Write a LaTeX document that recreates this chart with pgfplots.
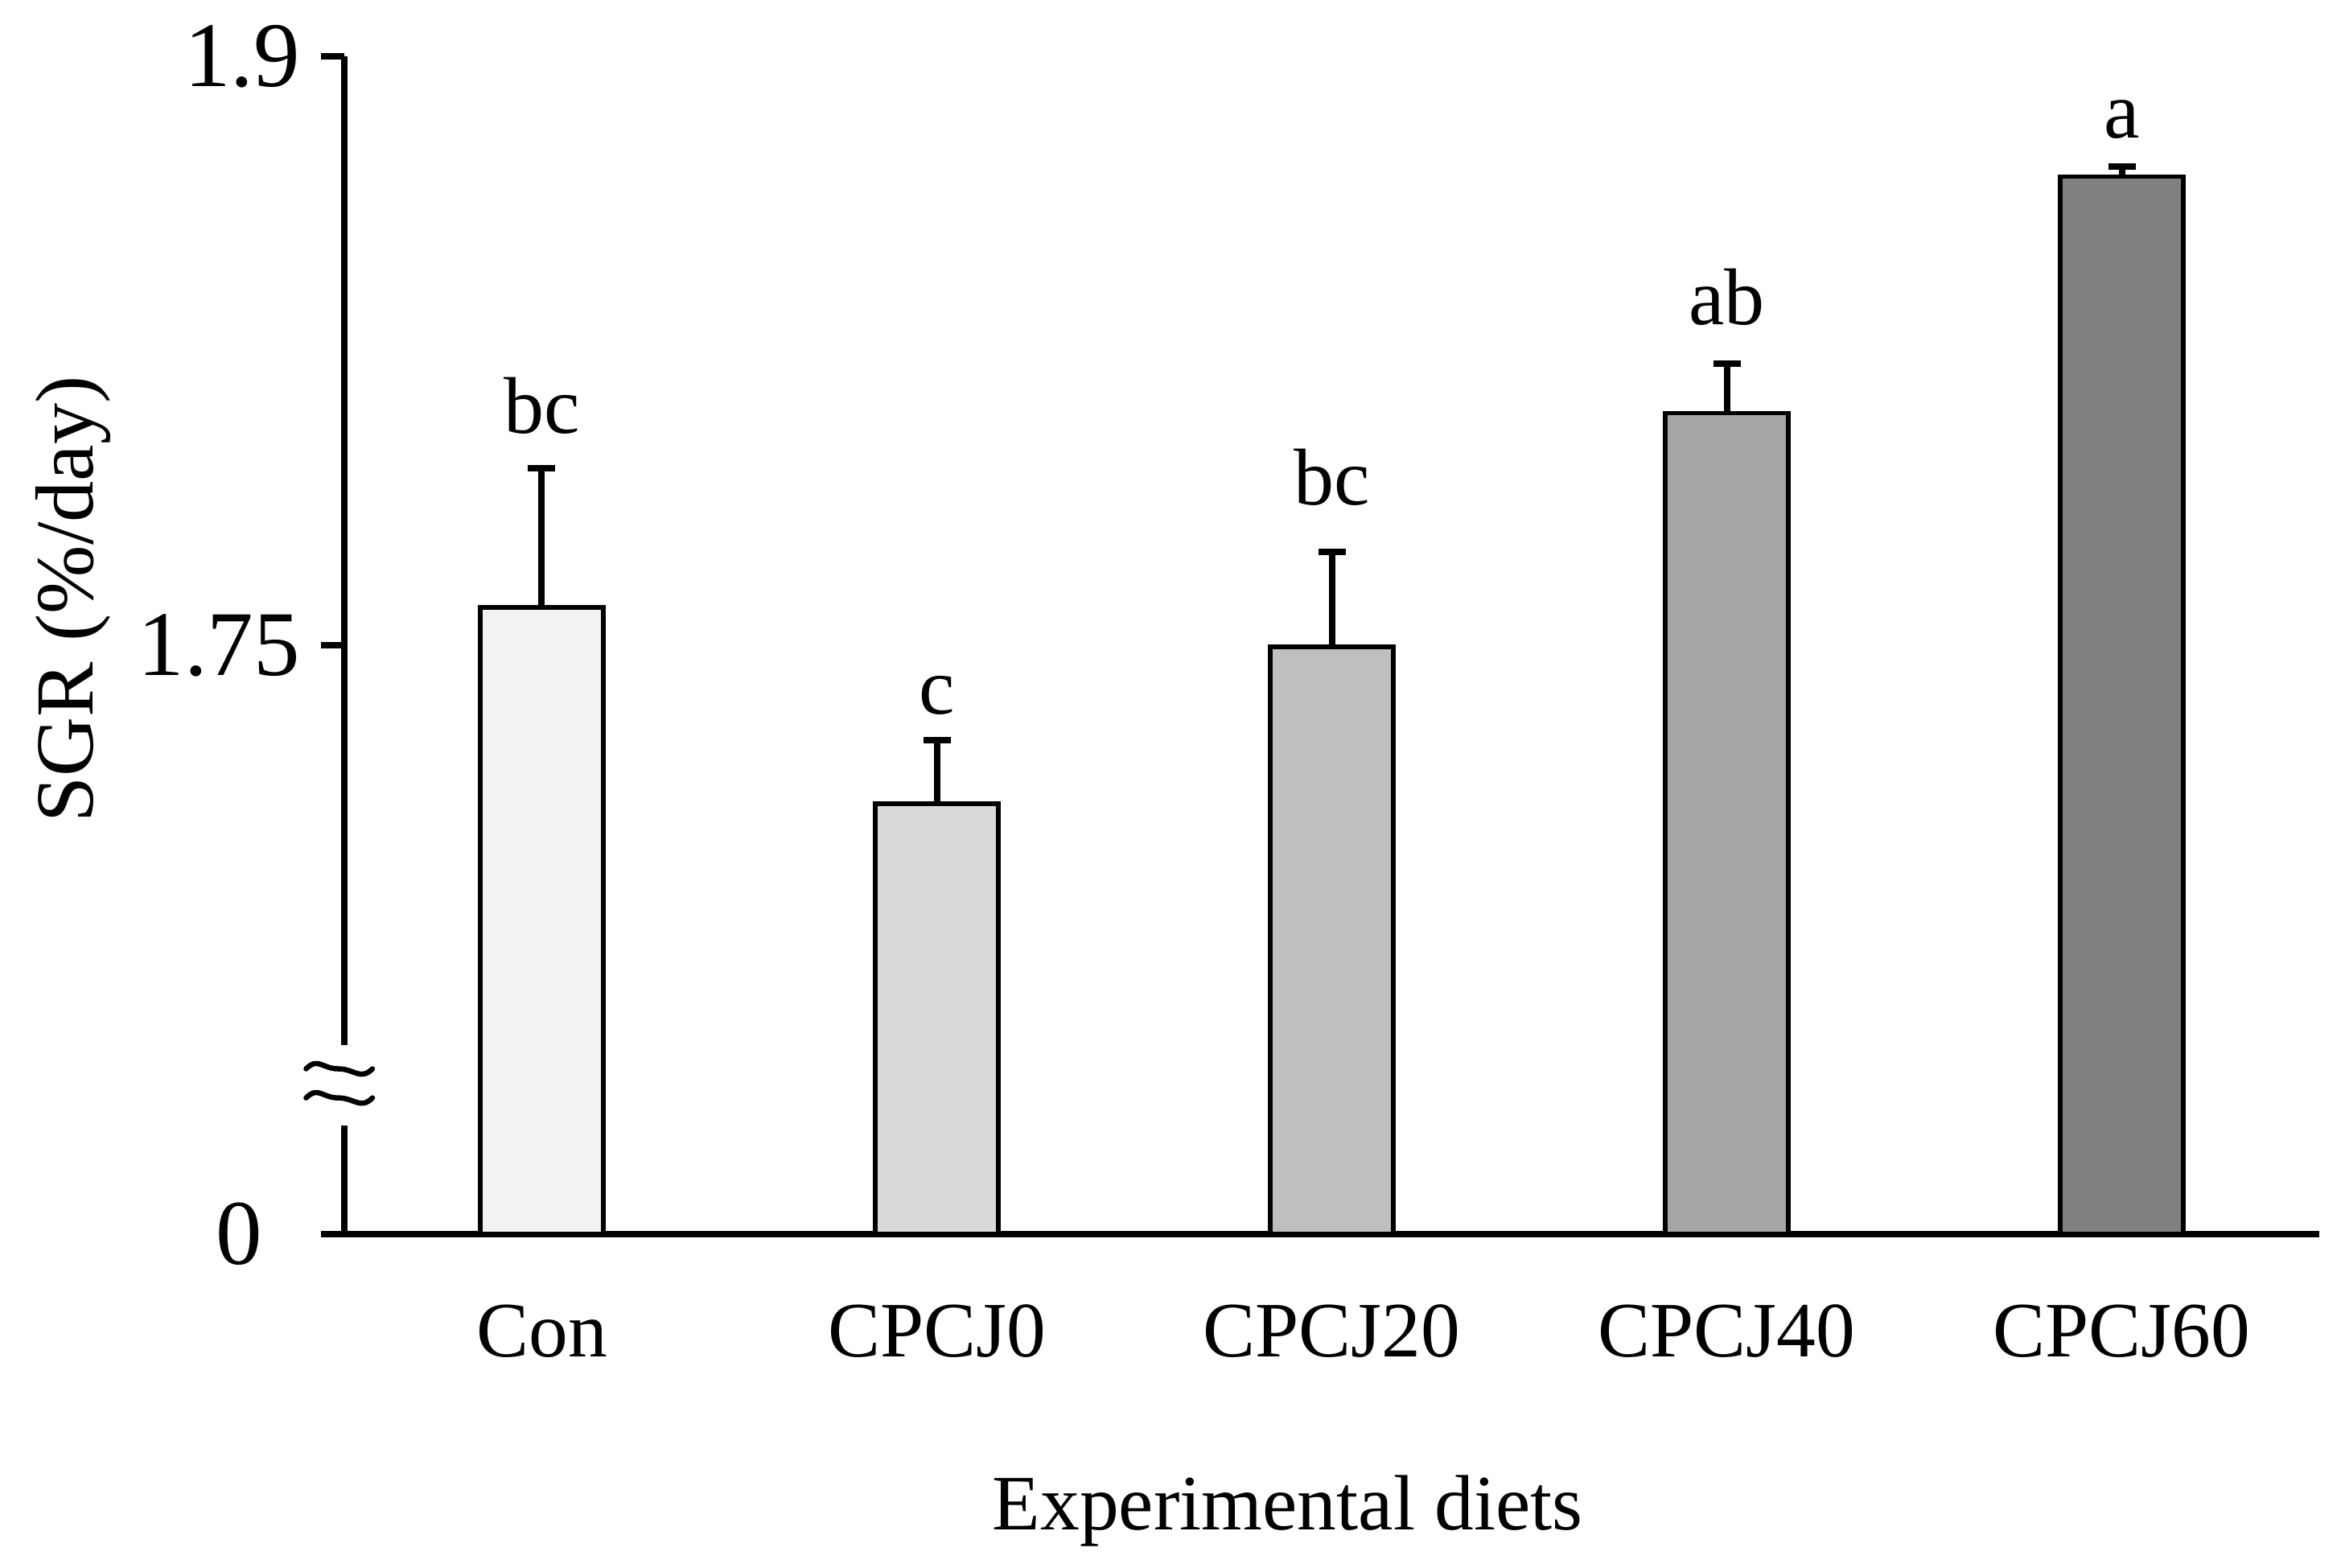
\documentclass[border=0pt]{standalone}
\usepackage{pgfplots}
\pgfplotsset{compat=1.18}
\usepackage{fontspec}
\setmainfont{Liberation Serif}

\definecolor{gA}{HTML}{F2F2F2}
\definecolor{gB}{HTML}{D9D9D9}
\definecolor{gC}{HTML}{BFBFBF}
\definecolor{gD}{HTML}{A6A6A6}
\definecolor{gE}{HTML}{808080}

\begin{document}
\begin{tikzpicture}
\begin{axis}[
    name=ax,
    scale only axis,
    width=491pt, height=292.8pt,
    xmin=-0.5, xmax=4.5,
    ymin=1.6, ymax=1.9,
    clip=false,
    axis x line=bottom, axis y line=left,
    axis line style={-, line width=1.6pt},
    xtick={0,1,2,3,4},
    xticklabels={Con,CPCJ0,CPCJ20,CPCJ40,CPCJ60},
    xtick style={draw=none},
    ytick={1.6,1.75,1.9},
    yticklabels={{0\kern9.3pt},1.75,1.9},
    tick align=outside,
    major tick length=5.8pt,
    ytick style={line width=1.6pt, black},
    /pgf/number format/assume math mode=true,
    xticklabel style={anchor=base, yshift=-24.7pt, font=\fontsize{19.5}{23}\selectfont},
    yticklabel style={anchor=east, inner sep=0pt, xshift=-5pt, font=\fontsize{23}{27}\selectfont},
    xlabel={Experimental diets},
    xlabel style={at={(axis description cs:0.4777,0)}, anchor=base, yshift=-73.6pt, font=\fontsize{19.5}{23}\selectfont},
    ylabel={SGR (\%/day)},
    ylabel style={at={([xshift=-62.4pt]axis description cs:0,0.539)}, anchor=base, font=\fontsize{20.5}{24}\selectfont},
    error bars/y dir=plus,
    error bars/y explicit,
    error bars/error mark=-,
    error bars/error mark options={rotate=90, line width=1.6pt, mark size=3.4pt, black},
    error bars/error bar style={line width=1.6pt, black},
]
\addplot[ybar, bar width=30.6pt, bar shift=0pt, fill=gA, draw=black, line width=1.1pt]
    coordinates {(0,1.7596) +- (0,0.0354)};
\addplot[ybar, bar width=30.6pt, bar shift=0pt, fill=gB, draw=black, line width=1.1pt]
    coordinates {(1,1.7096) +- (0,0.0163)};
\addplot[ybar, bar width=30.6pt, bar shift=0pt, fill=gC, draw=black, line width=1.1pt]
    coordinates {(2,1.7496) +- (0,0.0241)};
\addplot[ybar, bar width=30.6pt, bar shift=0pt, fill=gD, draw=black, line width=1.1pt]
    coordinates {(3,1.8091) +- (0,0.0126)};
\addplot[ybar, bar width=30.6pt, bar shift=0pt, fill=gE, draw=black, line width=1.1pt]
    coordinates {(4,1.8694) +- (0,0.0025)};

% significance letters (baseline positions)
\addplot[draw=none, mark=none, nodes near coords, point meta=explicit symbolic,
    every node near coord/.append style={anchor=base, inner sep=0pt, font=\fontsize{20}{24}\selectfont}]
    table[meta=label] {
    x  y       label
    0  1.8040  bc
    1  1.7324  c
    2  1.7857  bc
    3  1.8317  ab
    4  1.8791  a
};

% x axis overhang to the left of the y axis
\draw[line width=1.6pt] ([xshift=-5.8pt]axis cs:-0.5,1.6) -- (axis cs:-0.5,1.6);
% axis break
\fill[white] ([xshift=-4pt]axis cs:-0.5,1.6277) rectangle ([xshift=4pt]axis cs:-0.5,1.6482);
\draw[line width=1.3pt, line cap=round]
    ([xshift=-9.5pt]axis cs:-0.5,1.6421) .. controls +(3pt,3pt) and +(-4pt,0pt) ..
    ([xshift=-1.5pt]axis cs:-0.5,1.6421) .. controls +(4pt,0pt) and +(-3pt,-3pt) ..
    ([xshift=7pt]axis cs:-0.5,1.6421);
\draw[line width=1.3pt, line cap=round]
    ([xshift=-9.5pt]axis cs:-0.5,1.6347) .. controls +(3pt,3pt) and +(-4pt,0pt) ..
    ([xshift=-1.5pt]axis cs:-0.5,1.6347) .. controls +(4pt,0pt) and +(-3pt,-3pt) ..
    ([xshift=7pt]axis cs:-0.5,1.6347);
\end{axis}
\pgfresetboundingbox
\path ([shift={(-85.6pt,-83pt)}]ax.south west) rectangle ([shift={(497.4pt,306.8pt)}]ax.south west);
\end{tikzpicture}
\end{document}
